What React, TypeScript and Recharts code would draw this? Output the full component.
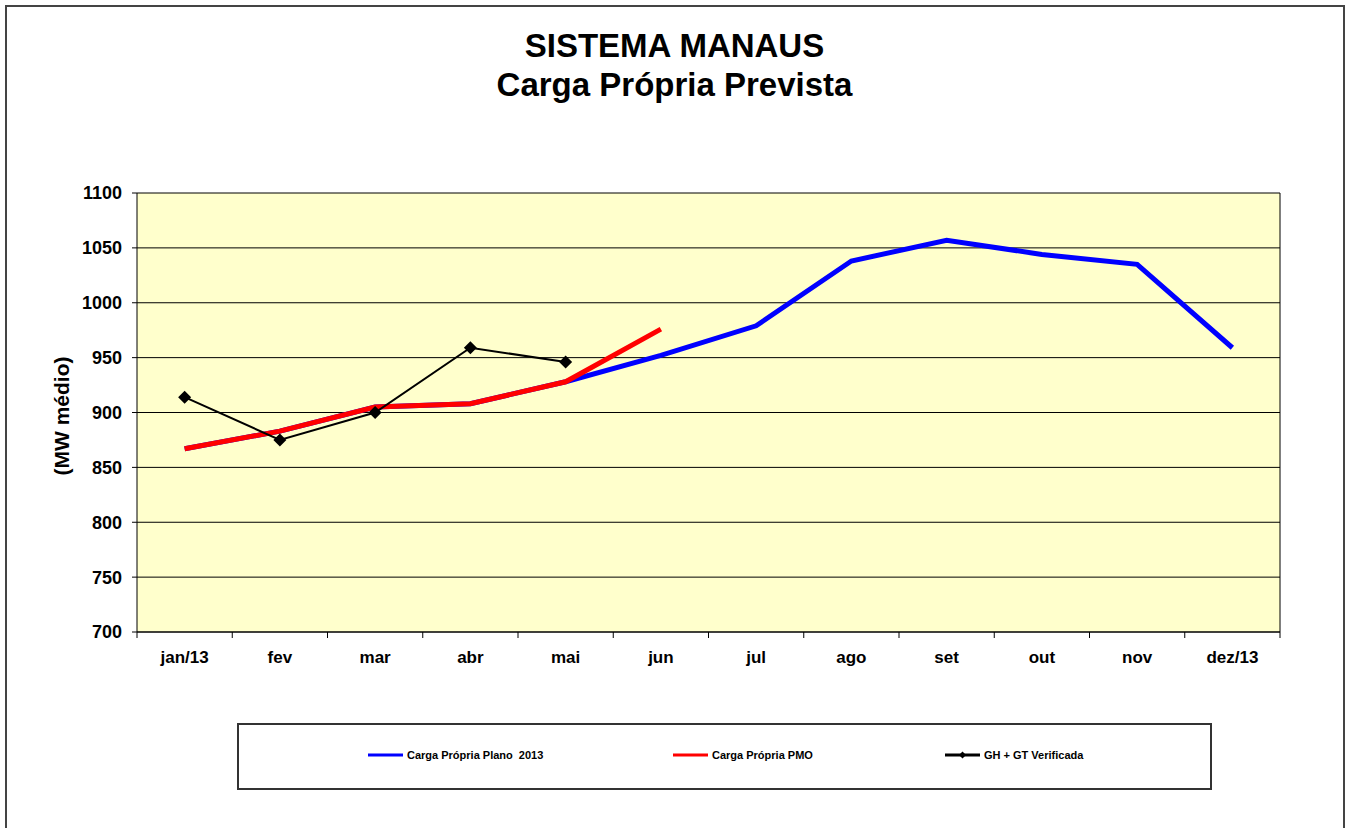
import { LineChart, Line, XAxis, YAxis, CartesianGrid } from 'recharts'

const months = ['jan/13', 'fev', 'mar', 'abr', 'mai', 'jun', 'jul', 'ago', 'set', 'out', 'nov', 'dez/13']
const plano2013 = [867, 883, 905, 908, 928, 952, 979, 1038, 1057, 1044, 1035, 959]
const pmo = [867, 883, 905, 908, 928, 976, null, null, null, null, null, null]
const verificada = [914, 875, 900, 959, 946, null, null, null, null, null, null, null]
const yTicks = [700, 750, 800, 850, 900, 950, 1000, 1050, 1100]

const data = months.map((m, i) => ({
  mes: m,
  plano: plano2013[i],
  pmo: pmo[i],
  verificada: verificada[i],
}))

const FONT = '"Liberation Sans", Arial, sans-serif'
const PLOT_LEFT = 137
const PLOT_RIGHT = 1280
const PLOT_TOP = 193
const PLOT_BOTTOM = 632
const Y_AXIS_W = 60
const X_AXIS_H = 40
const BAND = (PLOT_RIGHT - PLOT_LEFT) / months.length

function MonthTick({ x, y, payload, index }: any) {
  return (
    <g>
      {index === 0 && (
        <line x1={x - BAND / 2} y1={y} x2={x - BAND / 2} y2={y + 6} stroke="#000" />
      )}
      <line x1={x + BAND / 2} y1={y} x2={x + BAND / 2} y2={y + 6} stroke="#000" />
      <text
        x={x}
        y={y + 31}
        textAnchor="middle"
        fontSize={17}
        fontWeight="bold"
        fontFamily={FONT}
        fill="#000"
      >
        {payload.value}
      </text>
    </g>
  )
}

function Diamond(props: any) {
  const { cx, cy, index } = props
  if (cx == null || cy == null) return <g key={`d${index}`} />
  const r = 6.5
  return (
    <path
      key={`d${index}`}
      d={`M${cx},${cy - r}L${cx + r},${cy}L${cx},${cy + r}L${cx - r},${cy}Z`}
      fill="#000"
    />
  )
}

function LegendItem({ left, color, label, width, marker }: any) {
  return (
    <div style={{ position: 'absolute', left, top: 24, display: 'flex', alignItems: 'center' }}>
      <svg width={38} height={12} style={{ display: 'block' }}>
        <line x1={0} y1={6} x2={35} y2={6} stroke={color} strokeWidth={width} />
        {marker && <path d="M17.5,2.5L21,6L17.5,9.5L14,6Z" fill="#000" />}
      </svg>
      <span style={{ fontSize: 11, fontWeight: 'bold', fontFamily: FONT, marginLeft: 1, whiteSpace: 'pre' }}>
        {label}
      </span>
    </div>
  )
}

export default function App() {
  return (
    <div style={{ position: 'fixed', left: 0, top: 0, width: 1348, height: 828, overflow: 'hidden', background: '#fff' }}>
      <div
        style={{
          position: 'absolute',
          left: 6,
          width: 1337,
          top: 26,
          textAlign: 'center',
          fontFamily: FONT,
          fontWeight: 'bold',
          fontSize: 33,
          lineHeight: '39px',
          color: '#000',
        }}
      >
        <div>SISTEMA MANAUS</div>
        <div>Carga Própria Prevista</div>
      </div>
      <div
        style={{
          position: 'absolute',
          left: 62,
          top: 416,
          transform: 'translate(-50%, -50%) rotate(-90deg)',
          whiteSpace: 'nowrap',
          fontFamily: FONT,
          fontWeight: 'bold',
          fontSize: 21,
          color: '#000',
        }}
      >
        (MW médio)
      </div>
      <div style={{ position: 'absolute', left: 0, top: 0 }}>
        <LineChart
          width={1348}
          height={828}
          data={data}
          margin={{
            top: PLOT_TOP,
            left: PLOT_LEFT - Y_AXIS_W,
            right: 1348 - PLOT_RIGHT,
            bottom: 828 - PLOT_BOTTOM - X_AXIS_H,
          }}
        >
          <CartesianGrid
            stroke="#000"
            fill="#FFFFCC"
            fillOpacity={1}
            verticalCoordinatesGenerator={({ offset }: any) => [offset.left + offset.width]}
          />
          <XAxis
            dataKey="mes"
            interval={0}
            height={X_AXIS_H}
            padding={{ left: BAND / 2, right: BAND / 2 }}
            tickSize={0}
            tickMargin={0}
            tickLine={false}
            axisLine={{ stroke: '#000' }}
            tick={<MonthTick />}
          />
          <YAxis
            width={Y_AXIS_W}
            domain={[700, 1100]}
            ticks={yTicks}
            interval={0}
            tickSize={5}
            tickMargin={10}
            axisLine={{ stroke: '#000' }}
            tickLine={{ stroke: '#000' }}
            tick={{ fontSize: 18, fontWeight: 'bold', fontFamily: FONT, fill: '#000' }}
          />
          <Line
            dataKey="plano"
            stroke="#0000FF"
            strokeWidth={5}
            dot={false}
            isAnimationActive={false}
          />
          <Line
            dataKey="pmo"
            stroke="#FF0000"
            strokeWidth={5}
            dot={false}
            isAnimationActive={false}
          />
          <Line
            dataKey="verificada"
            stroke="#000"
            strokeWidth={2}
            dot={Diamond}
            activeDot={false}
            isAnimationActive={false}
          />
        </LineChart>
      </div>
      <div
        style={{
          position: 'absolute',
          left: 237,
          top: 723,
          width: 971,
          height: 63,
          border: '2px solid #333',
        }}
      >
        <LegendItem left={129} color="#0000FF" width={3} label="Carga Própria Plano  2013" />
        <LegendItem left={434} color="#FF0000" width={3} label="Carga Própria PMO" />
        <LegendItem left={706} color="#000" width={3} marker label="GH + GT Verificada" />
      </div>
      <div
        style={{
          position: 'absolute',
          left: 5,
          top: 5,
          width: 1336,
          height: 840,
          borderLeft: '2px solid #444',
          borderTop: '2px solid #444',
          borderRight: '2px solid #444',
          pointerEvents: 'none',
          zIndex: 5,
        }}
      />
    </div>
  )
}
